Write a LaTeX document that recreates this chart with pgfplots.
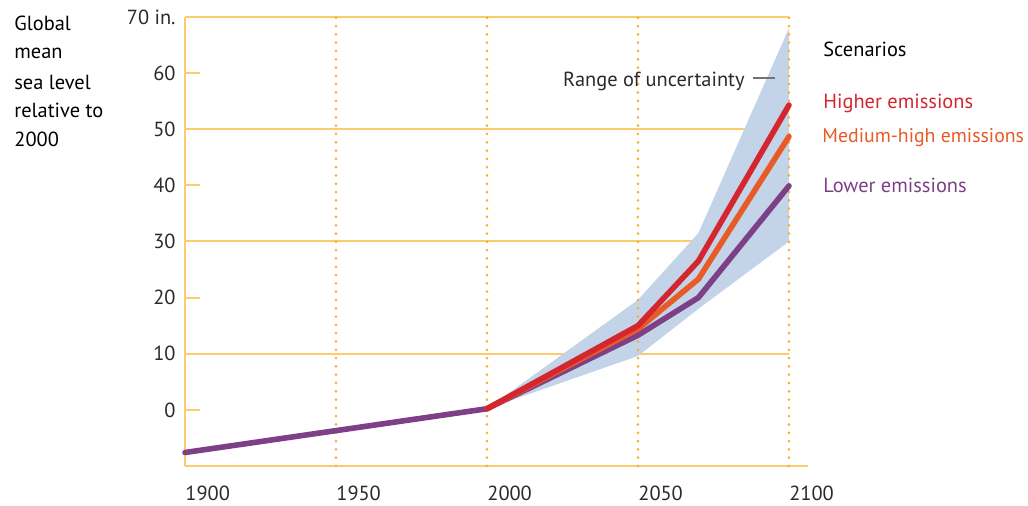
\documentclass[border=0pt]{standalone}
\usepackage{pgfplots}
\pgfplotsset{compat=1.18}
\usepackage{fontspec}
\setmainfont{PT Sans}
\definecolor{cRed}{HTML}{D3262F}
\definecolor{cOrange}{HTML}{E85A26}
\definecolor{cPurple}{HTML}{7D3F86}
\definecolor{cBand}{HTML}{C3D3E8}
\definecolor{cGrid}{HTML}{FBCB6E}
\definecolor{cDot}{HTML}{F9B12E}
\definecolor{cText}{HTML}{2A2A2A}
\newcommand{\lbl}{\fontsize{10.2}{12.2}\selectfont}
\newcommand{\lbls}{\fontsize{9.9}{12}\selectfont}
\begin{document}
\begin{tikzpicture}
\begin{axis}[
  at={(0,0)}, anchor=south west,
  scale only axis, width=311.5pt, height=224.5pt,
  xmin=1900, xmax=2106.3, ymin=-10, ymax=70,
  axis x line=bottom, axis y line=left,
  axis line style={draw=cGrid, line width=1pt, -},
  xtick={1900,1950,2000,2050,2100},
  xticklabels={1900,1950,2000,2050,2100},
  ytick={0,10,20,30,40,50,60,70},
  yticklabels={0,10,20,30,40,50,60,70 in.},
  major x tick style={draw=none},
  major y tick style={draw=cGrid, line width=1pt},
  major tick length=7.5pt, tick align=inside,
  xticklabel style={anchor=north west, inner sep=0pt, yshift=-10pt, font=\lbl, text=cText},
  yticklabel style={anchor=east, inner sep=0pt, xshift=-4.5pt, font=\lbl, text=cText},
  clip=false,
]
% horizontal grid lines
\foreach \yy in {10,30,50,70} {
  \edef\tmp{\noexpand\draw[cGrid, line width=1pt] (axis cs:1900,\yy) -- (axis cs:2100,\yy);}
  \tmp
}
% uncertainty band
\addplot[draw=none, fill=cBand] coordinates {
  (2000,0.2) (2050,19.6) (2070,31.5) (2100,68.0)
  (2100,30.0) (2070,18.0) (2050,9.6) (2000,0.2)
} -- cycle;
% dotted vertical grid lines
\foreach \xx in {1950,2000,2050,2100} {
  \edef\tmp{\noexpand\draw[cDot, line width=1.5pt, line cap=round, dash pattern=on 0pt off 4.15pt] (axis cs:\xx,-10) -- (axis cs:\xx,70);}
  \tmp
}
% historical
\addplot[cPurple, line width=2.8pt, line cap=round, line join=round] coordinates {(1900,-7.6) (2000,0.2)};
% scenarios
\addplot[cPurple, line width=2.8pt, line cap=round, line join=round] coordinates {(2000,0.2) (2050,13.3) (2070,20.0) (2100,39.9)};
\addplot[cOrange, line width=2.8pt, line cap=round, line join=round] coordinates {(2000,0.2) (2050,14.4) (2070,23.3) (2100,48.7)};
\addplot[cRed, line width=2.8pt, line cap=round, line join=round] coordinates {(2000,0.2) (2050,15.0) (2070,26.5) (2100,54.3)};
\end{axis}
% y-axis title
\node[anchor=base west, inner sep=0pt, font=\lbl, text=black] at (-85.5pt,217.5pt) {Global};
\node[anchor=base west, inner sep=0pt, font=\lbl, text=black] at (-85.5pt,203.5pt) {mean};
\node[anchor=base west, inner sep=0pt, font=\lbl, text=black] at (-85.5pt,188pt) {sea level};
\node[anchor=base west, inner sep=0pt, font=\lbl, text=black] at (-85.5pt,174pt) {relative to};
\node[anchor=base west, inner sep=0pt, font=\lbl, text=black] at (-85.5pt,159.5pt) {2000};
% range annotation
\node[anchor=base east, inner sep=0pt, font=\lbl, text=cText] at (280pt,189.6pt) {Range of uncertainty};
\draw[color=black!55, line width=0.8pt] (284pt,194pt) -- (295pt,194pt);
% scenario legend
\node[anchor=base west, inner sep=0pt, font=\lbl, text=black] at (319pt,204.5pt) {Scenarios};
\node[anchor=base west, inner sep=0pt, font=\lbl, text=cRed] at (319pt,178.5pt) {Higher emissions};
\node[anchor=base west, inner sep=0pt, font=\lbls, text=cOrange] at (318.5pt,161.5pt) {Medium-high emissions};
\node[anchor=base west, inner sep=0pt, font=\lbl, text=cPurple] at (319pt,136.5pt) {Lower emissions};
\pgfresetboundingbox
\path (-92.5pt,-20pt) rectangle (421.5pt,233pt);
\end{tikzpicture}
\end{document}
